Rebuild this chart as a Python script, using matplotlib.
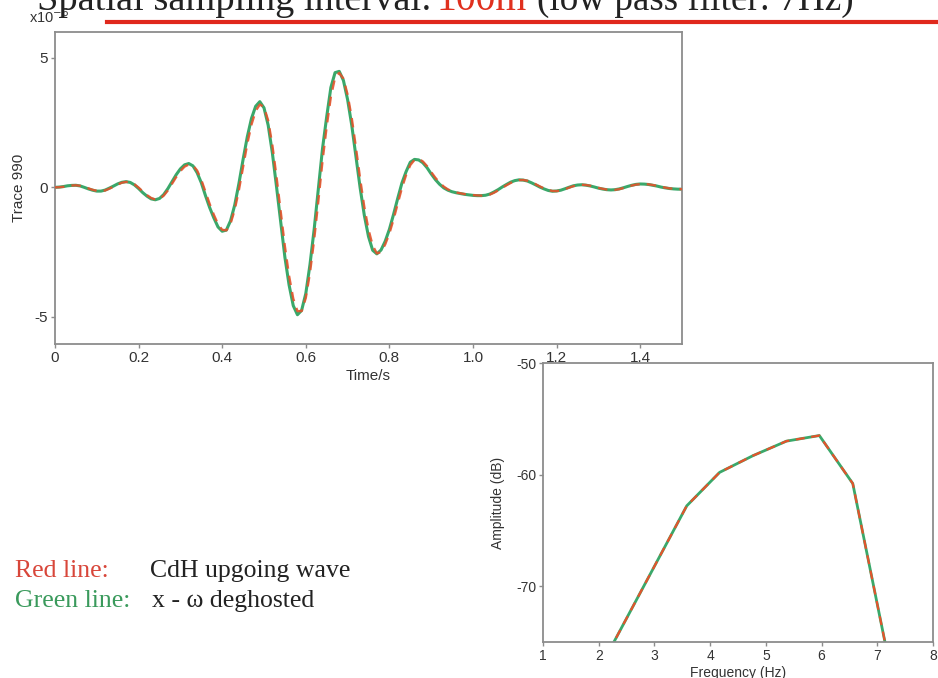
import numpy as np
import matplotlib
matplotlib.use("Agg")
import matplotlib.pyplot as plt
from matplotlib.lines import Line2D

# ---------------- data ----------------
time_s = np.round(np.arange(0, 1.501, 0.01), 2)

trace_xw = [  # green, x-omega deghosted (x1e-6)
    0.0, 0.01, 0.03, 0.06, 0.075, 0.08, 0.055, 0.0, -0.06, -0.11,
    -0.145, -0.145, -0.105, -0.03, 0.05, 0.135, 0.195, 0.22, 0.19, 0.095,
    -0.045, -0.205, -0.34, -0.445, -0.48, -0.43, -0.28, -0.05, 0.22, 0.49,
    0.715, 0.87, 0.92, 0.83, 0.565, 0.18, -0.32, -0.78, -1.18, -1.53,
    -1.695, -1.65, -1.29, -0.68, 0.15, 1.08, 1.95, 2.66, 3.13, 3.31,
    3.07, 2.40, 1.33, 0.02, -1.34, -2.70, -3.77, -4.57, -4.92, -4.75,
    -4.10, -2.98, -1.62, -0.06, 1.50, 2.73, 3.86, 4.43, 4.48, 4.13,
    3.39, 2.39, 1.19, -0.02, -1.08, -1.90, -2.43, -2.57, -2.42, -2.08,
    -1.62, -1.04, -0.42, 0.17, 0.61, 0.97, 1.08, 1.06, 0.95, 0.76,
    0.52, 0.30, 0.12, -0.02, -0.11, -0.17, -0.21, -0.24, -0.27, -0.29,
    -0.31, -0.32, -0.32, -0.305, -0.26, -0.18, -0.09, 0.015, 0.11, 0.20,
    0.26, 0.29, 0.28, 0.245, 0.175, 0.095, 0.01, -0.06, -0.12, -0.15,
    -0.14, -0.11, -0.055, 0.005, 0.06, 0.09, 0.10, 0.085, 0.055, 0.015,
    -0.03, -0.065, -0.09, -0.10, -0.09, -0.06, -0.015, 0.035, 0.08, 0.115,
    0.13, 0.125, 0.11, 0.08, 0.05, 0.01, -0.02, -0.045, -0.06, -0.07,
    -0.07,
]

trace_cdh = [  # red, CdH upgoing wave (x1e-6)
    0.0, 0.005, 0.02, 0.05, 0.07, 0.08, 0.06, 0.015, -0.04, -0.095,
    -0.135, -0.145, -0.12, -0.05, 0.025, 0.11, 0.18, 0.21, 0.20, 0.12,
    -0.01, -0.16, -0.30, -0.41, -0.47, -0.45, -0.32, -0.12, 0.14, 0.40,
    0.63, 0.80, 0.88, 0.85, 0.65, 0.29, -0.17, -0.64, -1.06, -1.42,
    -1.64, -1.66, -1.40, -0.86, -0.10, 0.80, 1.68, 2.42, 2.95, 3.20,
    3.10, 2.58, 1.63, 0.40, -0.94, -2.28, -3.42, -4.30, -4.78, -4.78,
    -4.27, -3.30, -2.02, -0.53, 1.02, 2.35, 3.50, 4.24, 4.42, 4.20,
    3.58, 2.67, 1.53, 0.33, -0.76, -1.63, -2.25, -2.55, -2.50, -2.20,
    -1.78, -1.23, -0.62, -0.02, 0.48, 0.86, 1.06, 1.10, 1.00, 0.82,
    0.59, 0.37, 0.18, 0.03, -0.08, -0.15, -0.20, -0.23, -0.26, -0.28,
    -0.30, -0.31, -0.32, -0.31, -0.28, -0.21, -0.12, -0.02, 0.08, 0.17,
    0.24, 0.28, 0.285, 0.255, 0.195, 0.12, 0.035, -0.04, -0.10, -0.14,
    -0.145, -0.12, -0.07, -0.01, 0.045, 0.08, 0.10, 0.09, 0.065, 0.025,
    -0.02, -0.055, -0.085, -0.10, -0.095, -0.07, -0.025, 0.02, 0.07, 0.105,
    0.125, 0.13, 0.115, 0.09, 0.06, 0.02, -0.01, -0.04, -0.055, -0.065,
    -0.07,
]

freq_hz = [1.79, 2.38, 2.98, 3.58, 4.17, 4.77, 5.37, 5.96, 6.56, 7.15]
amp_cdh_db = [-79.5, -74.0, -68.4, -62.8, -59.8, -58.3, -57.0, -56.5, -60.8, -75.3]
amp_xw_db = [-79.5, -74.0, -68.4, -62.8, -59.8, -58.3, -57.0, -56.5, -60.8, -75.3]

time_ticks = [0, 0.2, 0.4, 0.6, 0.8, 1.0, 1.2, 1.4]
time_ticklabels = ["0", "0.2", "0.4", "0.6", "0.8", "1.0", "1.2", "1.4"]
trace_ticks = [-5, 0, 5]
freq_ticks = [1, 2, 3, 4, 5, 6, 7, 8]
amp_ticks = [-70, -60, -50]

# ---------------- style ----------------
GREEN = "#3aa86a"
RED = "#e4532c"
SPINE = "#8c8c8c"
SANS = ["Liberation Sans", "DejaVu Sans"]
SERIF = ["Liberation Serif", "DejaVu Serif"]
plt.rcParams["font.family"] = SANS
plt.rcParams["axes.unicode_minus"] = False

W, H = 938, 678
fig = plt.figure(figsize=(W / 100, H / 100), dpi=100)
fig.patch.set_facecolor("white")


def fx(px):
    return px / W


def fy(py):
    return 1 - py / H


def style_axes(ax, fs):
    for s in ax.spines.values():
        s.set_color(SPINE)
        s.set_linewidth(1.3)
    ax.tick_params(direction="out", length=3, width=1, color=SPINE,
                   labelsize=fs, labelcolor="#333333", pad=2)


# ---------------- top: time trace ----------------
ax1 = fig.add_axes([fx(55), fy(344), fx(682) - fx(55), fy(32) - fy(344)])
ax1.plot(time_s, trace_xw, color=GREEN, lw=2.2, solid_capstyle="round", zorder=2)
ax1.plot(time_s, trace_cdh, color=RED, lw=1.7, ls=(0, (4, 3)), zorder=3, alpha=0.9)
ax1.set_xlim(0, 1.5)
ax1.set_ylim(-6.05, 6.0)
ax1.set_xticks(time_ticks)
ax1.set_xticklabels(time_ticklabels)
ax1.set_yticks(trace_ticks)
style_axes(ax1, 11)
ax1.set_xlabel("Time/s", fontsize=11, color="#333333", labelpad=3)
ax1.set_ylabel("Trace 990", fontsize=11, color="#333333", labelpad=6)
fig.text(fx(29), fy(23), r"x10$^{-6}$", fontsize=10.5, color="#333333",
         va="baseline", ha="left")

# ---------------- bottom: spectrum ----------------
ax2 = fig.add_axes([fx(543), fy(642), fx(933) - fx(543), fy(363) - fy(642)])
ax2.plot(freq_hz, amp_xw_db, color=GREEN, lw=2.0, zorder=2)
ax2.plot(freq_hz, amp_cdh_db, color=RED, lw=1.6, ls=(0, (4, 3)), zorder=3)
ax2.set_xlim(1, 8)
ax2.set_ylim(-75, -50)
ax2.set_xticks(freq_ticks)
ax2.set_yticks(amp_ticks)
style_axes(ax2, 10)
ax2.set_xlabel("Frequency (Hz)", fontsize=10, color="#333333", labelpad=2)
ax2.set_ylabel("Amplitude (dB)", fontsize=10, color="#333333", labelpad=8)
ax2.patch.set_alpha(0)

# ---------------- title (cut off at top) ----------------
fig.text(fx(37), fy(10), "Spatial sampling interval:", fontsize=27.6,
         family=SERIF, color="#222222", va="baseline", ha="left")
fig.text(fx(437), fy(10), "100m", fontsize=28.5, family=SERIF,
         color="#e0301e", va="baseline", ha="left")
fig.text(fx(537), fy(10), "(low pass filter: 7Hz)", fontsize=26.7,
         family=SERIF, color="#222222", va="baseline", ha="left")
fig.add_artist(Line2D([fx(107), fx(938)], [fy(22), fy(22)],
                      transform=fig.transFigure, color="#e0281c", lw=3.0))

# ---------------- legend text ----------------
lfs = 18.5
fig.text(fx(15), fy(577), "Red line:", fontsize=lfs, family=SERIF,
         color="#d8463a", va="baseline")
fig.text(fx(150), fy(577), "CdH upgoing wave", fontsize=lfs, family=SERIF,
         color="#222222", va="baseline")
fig.text(fx(15), fy(607), "Green line:", fontsize=lfs, family=SERIF,
         color="#3a9a5c", va="baseline")
fig.text(fx(152), fy(607), "x - \u03c9 deghosted", fontsize=lfs, family=SERIF,
         color="#222222", va="baseline")

fig.savefig("out.png", dpi=100, facecolor="white")
